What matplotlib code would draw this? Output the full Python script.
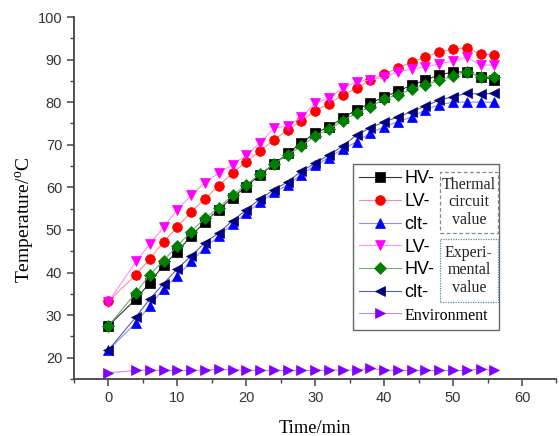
import matplotlib
matplotlib.use("Agg")
import matplotlib.pyplot as plt
from matplotlib.patches import Rectangle
from matplotlib.ticker import MultipleLocator

# time points (min)
t = [0, 4, 6, 8, 10, 12, 14, 16, 18, 20, 22, 24, 26, 28,
     30, 32, 34, 36, 38, 40, 42, 44, 46, 48, 50, 52, 54, 56]

# thermal circuit values
hv_calc = [27.5, 33.8, 37.6, 41.8, 44.9, 48.6, 51.9, 54.8, 57.6, 60.2, 63.0, 65.4, 68.0, 70.4,
           72.8, 74.2, 76.3, 78.2, 79.8, 81.2, 82.6, 84.0, 85.2, 86.4, 87.1, 87.1, 86.0, 85.2]
lv_calc = [33.3, 39.5, 43.2, 47.2, 50.7, 54.3, 57.3, 60.4, 63.4, 66.0, 68.6, 71.1, 73.5, 75.6,
           78.0, 79.6, 81.7, 83.3, 85.2, 86.6, 88.0, 89.4, 90.6, 91.8, 92.5, 92.7, 91.3, 91.1]
clt_calc = [21.8, 28.2, 32.2, 36.2, 39.2, 42.6, 45.8, 48.6, 51.4, 54.0, 56.5, 58.8, 60.6, 63.0,
            65.2, 67.0, 69.0, 70.7, 72.8, 74.2, 75.4, 76.5, 78.2, 79.4, 80.0, 80.0, 80.0, 80.0]

# experimental values
lv_exp = [33.1, 42.6, 46.7, 50.7, 54.7, 58.2, 61.1, 63.4, 65.3, 67.6, 70.4, 73.9, 74.4, 76.5,
          79.8, 81.0, 83.3, 84.8, 85.2, 85.9, 87.1, 87.8, 88.3, 89.0, 89.7, 90.6, 88.7, 88.7]
hv_exp = [27.5, 35.3, 39.5, 42.8, 46.3, 49.6, 52.8, 55.2, 58.2, 60.6, 63.2, 65.5, 67.6, 69.7,
          72.1, 73.7, 75.6, 77.5, 78.9, 80.8, 81.7, 83.1, 84.0, 85.2, 86.1, 87.1, 86.0, 86.0]
clt_exp = [21.8, 29.6, 33.8, 37.4, 40.9, 43.9, 47.0, 49.3, 52.2, 54.7, 57.3, 59.4, 61.3, 63.8,
           65.7, 67.6, 69.7, 72.3, 74.0, 75.4, 76.5, 77.8, 79.1, 80.5, 81.3, 82.1, 81.9, 82.1]

env = [16.5, 17.0, 17.1, 17.0, 17.0, 17.0, 17.1, 17.3, 17.1, 17.1, 17.0, 17.0, 17.0, 17.0,
       17.0, 17.1, 17.1, 17.1, 17.5, 17.1, 17.0, 17.0, 17.0, 17.0, 17.0, 17.0, 17.4, 17.0]

# label, values, marker colour, line colour, marker
series = [
    ("HV-", hv_calc, "black", "#333333", "s"),
    ("LV-", lv_calc, "red", "#ff8c8c", "o"),
    ("clt-", clt_calc, "blue", "#8c8cff", "^"),
    ("LV-", lv_exp, "magenta", "#ff8cff", "v"),
    ("HV-", hv_exp, "green", "#6fb06f", "D"),
    ("clt-", clt_exp, "navy", "#5a5aa8", "<"),
    ("Environment", env, "#8000ff", "#b98cff", ">"),
]

SERIF = "Liberation Serif"
SANS = "Liberation Sans"

fig = plt.figure(figsize=(5.59, 4.36), dpi=100)
ax = fig.add_axes([0.1324, 0.1307, 0.863, 0.8303])

for label, vals, col, lcol, mk in series:
    ms = 6 if mk == "D" else 7
    ax.plot(t, vals, color=lcol, marker=mk, markersize=ms, linewidth=0.8,
            markerfacecolor=col, markeredgecolor=col, markeredgewidth=0.5, label=label)

ax.set_xlim(-5, 65)
ax.set_ylim(15, 100)
ax.xaxis.set_major_locator(MultipleLocator(10))
ax.xaxis.set_minor_locator(MultipleLocator(5))
ax.yaxis.set_major_locator(MultipleLocator(10))
ax.yaxis.set_minor_locator(MultipleLocator(5))
ax.set_yticks(range(20, 101, 10))

for side in ("top", "right"):
    ax.spines[side].set_visible(False)
for side in ("left", "bottom"):
    ax.spines[side].set_color("#444444")
    ax.spines[side].set_linewidth(1.3)

ax.tick_params(which="major", direction="out", length=5, width=1.1,
               color="#444444", labelsize=10.5, labelcolor="#333333")
ax.tick_params(which="minor", direction="out", length=3, width=1.0, color="#444444")
for lab in ax.get_xticklabels() + ax.get_yticklabels():
    lab.set_fontfamily(SANS)

ax.set_xlabel("Time/min", fontfamily=SERIF, fontsize=13.2, labelpad=11)
ax.set_ylabel("Temperature/$^\\mathregular{o}$C", fontfamily=SERIF, fontsize=14)
ax.yaxis.set_label_coords(-0.076, 0.439)

leg = ax.legend(loc="upper left",
                bbox_to_anchor=(353 / 559, 1 - 328 / 436, 146 / 559, 164 / 436),
                bbox_transform=fig.transFigure, mode="expand", borderaxespad=0,
                fancybox=False, edgecolor="#666666", framealpha=1, handlelength=2.3,
                handletextpad=0.2, labelspacing=0.32, borderpad=0.35,
                prop={"family": SANS, "size": 13})
leg.get_frame().set_linewidth(1.0)
envtxt = leg.get_texts()[-1]
envtxt.set_fontfamily(SERIF)
envtxt.set_fontsize(11.5)

# annotation boxes inside the legend
boxes = [
    ((440, 172, 498, 233), "Thermal\ncircuit\nvalue", "#888888", (0, (3, 2))),
    ((440, 239, 498, 302), "Experi-\nmental\nvalue", "#5a8aa8", (0, (1, 1))),
]
for (x0, y0, x1, y1), txt, ec, ls in boxes:
    fx0, fx1 = x0 / 559, x1 / 559
    fy0, fy1 = 1 - y1 / 436, 1 - y0 / 436
    r = Rectangle((fx0, fy0), fx1 - fx0, fy1 - fy0, transform=fig.transFigure,
                  facecolor="white", edgecolor=ec, linestyle=ls, linewidth=0.9, zorder=10)
    fig.add_artist(r)
    fig.text((fx0 + fx1) / 2, (fy0 + fy1) / 2, txt, ha="center", va="center",
             fontfamily=SERIF, fontsize=11.5, linespacing=1.15, color="#222222", zorder=11)

fig.savefig("out.png", dpi=100)
